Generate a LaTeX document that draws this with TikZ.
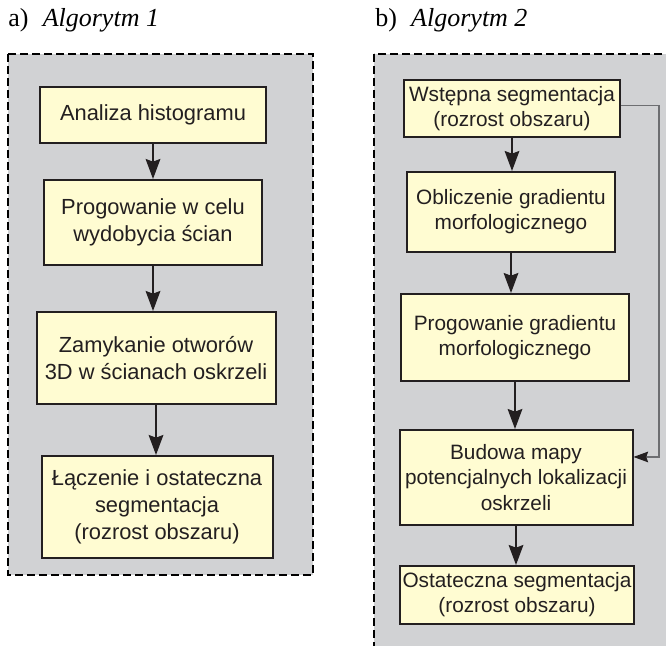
\documentclass[tikz,border=0pt]{standalone}
\usepackage{fontspec}
\setmainfont{Liberation Serif}
\newfontfamily\boxfont{Liberation Sans}
\usetikzlibrary{arrows.meta}
\definecolor{panelgray}{HTML}{D1D2D4}
\definecolor{boxyellow}{HTML}{FFFCD2}
\definecolor{boxline}{HTML}{231F20}
\definecolor{fbgray}{HTML}{6D6E71}
\begin{document}
\begin{tikzpicture}[x=0.75pt,y=-0.75pt,
  panel/.style={fill=panelgray,draw=black,line width=1.2pt,dash pattern=on 6pt off 3pt},
  stepbox/.style={draw=boxline,fill=boxyellow,line width=1.5pt,inner sep=0pt,
    align=center,text=boxline},
  lfont/.style={font=\boxfont\fontsize{16.4}{20.5}\selectfont},
  rfont/.style={font=\boxfont\fontsize{15.6}{18.8}\selectfont},
  arr/.style={draw=boxline,line width=1.4pt,-{Stealth[length=15pt,width=11pt,inset=2pt]}},
  fbarr/.style={draw=fbgray,line width=0.8pt,-{Stealth[length=11pt,width=8pt,inset=1.5pt,color=boxline]}},
  title/.style={anchor=base west,inner sep=0pt,font=\fontsize{19.5}{23}\selectfont}]
\useasboundingbox (0,0) rectangle (666,645);
\clip (0,0) rectangle (666,645);
% panels
\draw[panel] (8,54) rectangle (313,575);
\draw[panel] (374,54) rectangle (690,680);
% titles
\node[title] (ta) at (8,27) {a)\hspace{0.55em}\textit{Algorytm 1}};
\node[title] (tb) at (375,27) {b)\hspace{0.55em}\textit{Algorytm 2}};
% left boxes
\node[stepbox,lfont,minimum width=226*0.75pt,minimum height=56*0.75pt] (L1) at (153,115) {Analiza histogramu};
\node[stepbox,lfont,minimum width=218*0.75pt,minimum height=85*0.75pt] (L2) at (153,222.5) {Progowanie w celu\\wydobycia ścian};
\node[stepbox,lfont,minimum width=239*0.75pt,minimum height=92*0.75pt] (L3) at (156,358) {Zamykanie otworów\\3D w ścianach oskrzeli};
\node[stepbox,lfont,minimum width=231*0.75pt,minimum height=102*0.75pt] (L4) at (157,507) {Łączenie i ostateczna\\segmentacja\\(rozrost obszaru)};
% right boxes
\node[stepbox,rfont,minimum width=216*0.75pt,minimum height=57*0.75pt] (R1) at (512,108.5) {Wstępna segmentacja\\(rozrost obszaru)};
\node[stepbox,rfont,minimum width=208*0.75pt,minimum height=80*0.75pt] (R2) at (511,212) {Obliczenie gradientu\\morfologicznego};
\node[stepbox,rfont,minimum width=228*0.75pt,minimum height=87*0.75pt] (R3) at (515,337.5) {Progowanie gradientu\\morfologicznego};
\node[stepbox,rfont,minimum width=233*0.75pt,minimum height=95*0.75pt] (R4) at (516,477.5) {Budowa mapy\\potencjalnych lokalizacji\\oskrzeli};
\node[stepbox,rfont,minimum width=234*0.75pt,minimum height=58*0.75pt] (R5) at (517,595) {Ostateczna segmentacja\\(rozrost obszaru)};
% arrows left
\draw[arr] (L1.south) -- (L1.south |- L2.north);
\draw[arr] (L2.south) -- (L2.south |- L3.north);
\draw[arr] (L3.south) -- (L3.south |- L4.north);
% arrows right
\draw[arr] (R1.south) -- (R1.south |- R2.north);
\draw[arr] (R2.south) -- (R2.south |- R3.north);
\draw[arr] (R3.south) -- (R3.south |- R4.north);
\draw[arr] (R4.south) -- (R4.south |- R5.north);
% feedback
\coordinate (fb) at (659,300);
\draw[fbarr] ([yshift=1.9pt]R1.east) -- ([yshift=1.9pt]R1.east -| fb) -- ([yshift=15.4pt]R4.east -| fb) -- ([yshift=15.4pt]R4.east);
\end{tikzpicture}
\end{document}
